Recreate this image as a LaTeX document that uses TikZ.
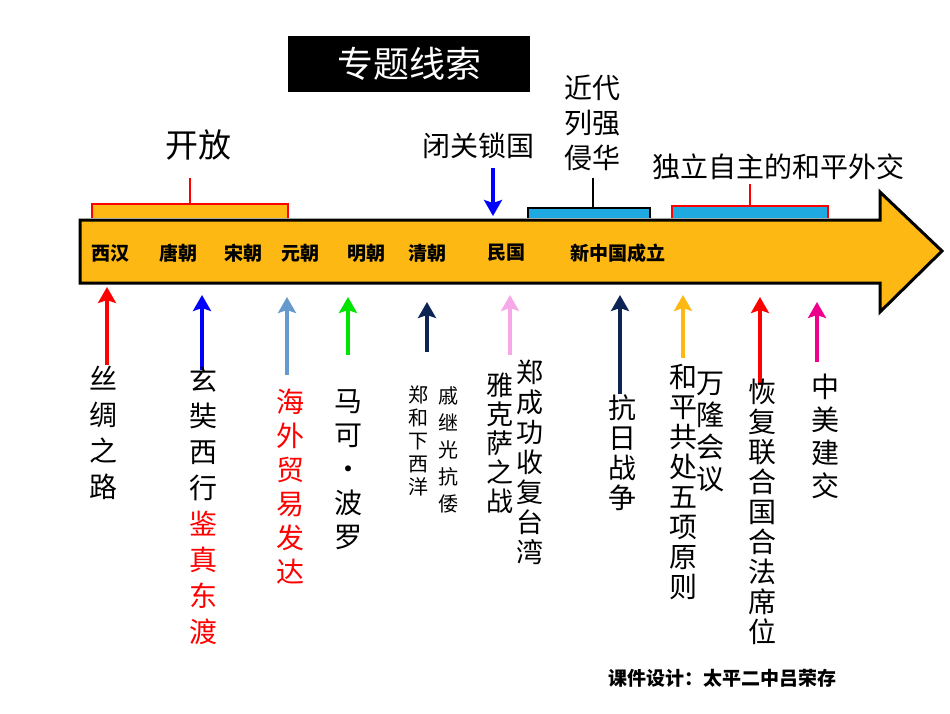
\documentclass[tikz,border=0pt]{standalone}
\usepackage{fontspec}
\setmainfont{Noto Sans CJK SC}
\usetikzlibrary{arrows.meta}
\definecolor{gold}{HTML}{FDB813}
\definecolor{sky}{HTML}{1FA9E1}
\definecolor{navy}{HTML}{0B2454}
\definecolor{lblue}{HTML}{6699CC}
\definecolor{pinkish}{HTML}{F7A8E8}
\begin{document}
\begin{tikzpicture}[x=1pt,y=-1pt,
 up/.style={line width=4.5pt,-{Stealth[length=16pt,width=18pt,inset=3pt]}},
 dyn/.style={font=\fontsize{19}{19}\selectfont\bfseries},
 vt/.style 2 args={anchor=north,align=center,inner sep=0pt,font=\fontsize{#1}{#2}\selectfont}]
\useasboundingbox (0,0) rectangle (950,713);
% main arrow
\draw[line width=3pt,fill=gold,line join=miter] (80,220) -- (880,220) -- (880,192) -- (942,251) -- (880,312) -- (880,283) -- (80,283) -- cycle;
% brackets
\draw[red,line width=2.5pt,fill=gold] (92,218) -- (92,204) -- (288,204) -- (288,218);
\draw[red,line width=2pt] (190,204) -- (190,178);
\draw[black,line width=2.5pt,fill=sky] (528,218) -- (528,208) -- (650,208) -- (650,218);
\draw[black,line width=2pt] (593,208) -- (593,178);
\draw[red,line width=2.5pt,fill=sky] (672,218) -- (672,206) -- (828,206) -- (828,218);
\draw[red,line width=2pt] (750,206) -- (750,184);
% title
\node[fill=black,minimum width=242pt,minimum height=56pt,text=white,font=\fontsize{36}{36}\selectfont] (title) at (409,64) {专题线索};
\node[font=\fontsize{33}{33}\selectfont] (kf) at (198,145) {开放};
\node[font=\fontsize{28}{28}\selectfont] (bg) at (478,146) {闭关锁国};
\node[align=center,font=\fontsize{28}{35}\selectfont] (jd) at (592,123) {近代\\列强\\侵华};
\node[font=\fontsize{28}{28}\selectfont] (dl) at (778,167) {独立自主的和平外交};
\coordinate (bgtop) at (493,168);
\coordinate (bgbot) at (493,216);
\draw[up,blue] (bgtop) -- (bgbot);
% dynasties
\node[dyn] (d1) at (110,253) {西汉};
\node[dyn] (d2) at (178,253) {唐朝};
\node[dyn] (d3) at (243,253) {宋朝};
\node[dyn] (d4) at (300,253) {元朝};
\node[dyn] (d5) at (366,253) {明朝};
\node[dyn] (d6) at (427,253) {清朝};
\node[dyn] (d7) at (506,253) {民国};
\node[dyn] (d8) at (618,253) {新中国成立};
% up arrows
\coordinate (a1) at (107,365); \coordinate (b1) at (107,287);
\coordinate (a2) at (202,370); \coordinate (b2) at (202,295);
\coordinate (a3) at (287,375); \coordinate (b3) at (287,297);
\coordinate (a4) at (348,355); \coordinate (b4) at (348,297);
\coordinate (a5) at (427,352); \coordinate (b5) at (427,302);
\coordinate (a6) at (510,355); \coordinate (b6) at (510,295);
\coordinate (a7) at (620,395); \coordinate (b7) at (620,295);
\coordinate (a8) at (683,358); \coordinate (b8) at (683,295);
\coordinate (a9) at (760,385); \coordinate (b9) at (760,297);
\coordinate (a10) at (817,362); \coordinate (b10) at (817,302);
\draw[up,red] (a1) -- (b1);
\draw[up,blue] (a2) -- (b2);
\draw[up,lblue] (a3) -- (b3);
\draw[up,green!90!black] (a4) -- (b4);
\draw[up,navy] (a5) -- (b5);
\draw[up,pinkish] (a6) -- (b6);
\draw[up,navy] (a7) -- (b7);
\draw[up,gold] (a8) -- (b8);
\draw[up,red] (a9) -- (b9);
\draw[up,magenta] (a10) -- (b10);
% vertical texts
\node[vt={28}{36}] (t1) at (103,366) {丝\\绸\\之\\路};
\node[vt={28}{36}] (t2) at (203,367) {玄\\奘\\西\\行\\\textcolor{red}{鉴}\\\textcolor{red}{真}\\\textcolor{red}{东}\\\textcolor{red}{渡}};
\node[vt={28}{34},text=red] (t3) at (290,389) {海\\外\\贸\\易\\发\\达};
\node[vt={28}{34}] (t4) at (348,389) {马\\可\\·\\波\\罗};
\node[vt={20}{23}] (t5) at (418,386) {郑\\和\\下\\西\\洋};
\node[vt={20}{27}] (t6) at (448,386) {戚\\继\\光\\抗\\倭};
\node[vt={27}{29}] (t7) at (500,373) {雅\\克\\萨\\之\\战};
\node[vt={27}{30}] (t8) at (530,360) {郑\\成\\功\\收\\复\\台\\湾};
\node[vt={28}{30},fill=white,inner sep=1pt] (t9) at (622,394) {抗\\日\\战\\争};
\node[vt={28}{30}] (t10) at (683,364) {和\\平\\共\\处\\五\\项\\原\\则};
\node[vt={28}{32}] (t11) at (710,372) {万\\隆\\会\\议};
\node[vt={28}{30}] (t12) at (762,379) {恢\\复\\联\\合\\国\\合\\法\\席\\位};
\node[vt={28}{33}] (t13) at (825,374) {中\\美\\建\\交};
\node[font=\fontsize{19}{19}\selectfont\bfseries] (cr) at (722,678) {课件设计：太平二中吕荣存};
\end{tikzpicture}
\end{document}
